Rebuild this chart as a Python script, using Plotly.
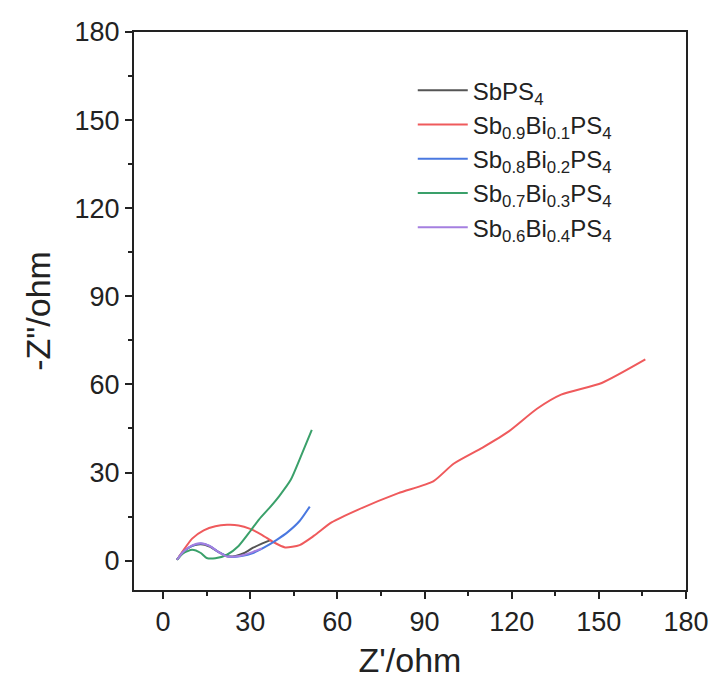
import plotly.graph_objects as go

# Data (Z' , -Z'')
sbps4_x = [4.8, 7, 10, 13, 16, 19, 22, 25, 28, 31, 34, 37]
sbps4_y = [0.3, 3.0, 5.0, 5.6, 4.8, 3.0, 1.5, 1.6, 2.6, 4.4, 5.8, 7.0]

bi01_x = [4.8, 7, 10, 14, 18, 22, 26, 30, 34, 38, 42, 47, 52, 58, 67, 81, 93, 100, 110, 119, 128.7, 137, 151, 166]
bi01_y = [0.3, 3.5, 7.5, 10.3, 11.7, 12.2, 12.0, 10.8, 8.8, 6.3, 4.5, 5.3, 8.5, 13.0, 17.3, 23.0, 27.0, 33.0, 38.5, 44.0, 51.7, 56.5, 60.5, 68.5]

bi02_x = [4.8, 7, 10, 13, 16, 19, 23, 27, 31, 35, 39, 43, 47, 50.5]
bi02_y = [0.3, 3.0, 5.0, 5.8, 5.0, 3.0, 1.3, 1.6, 2.6, 4.6, 7.0, 9.8, 13.5, 18.4]

bi03_x = [4.8, 7, 10, 13, 15, 18, 22, 26, 30, 33, 37, 40, 44, 47.4, 51.2]
bi03_y = [0.3, 2.5, 3.7, 2.6, 0.9, 0.8, 2.0, 5.0, 10.0, 14.0, 18.4, 22.0, 27.6, 35.4, 44.5]

bi04_x = [4.8, 7, 10, 13, 16, 19, 22, 25, 28, 31, 34]
bi04_y = [0.3, 3.0, 5.2, 5.9, 5.0, 3.0, 1.4, 1.4, 2.0, 3.0, 4.2]

names = ["SbPS<sub>4</sub>",
         "Sb<sub>0.9</sub>Bi<sub>0.1</sub>PS<sub>4</sub>",
         "Sb<sub>0.8</sub>Bi<sub>0.2</sub>PS<sub>4</sub>",
         "Sb<sub>0.7</sub>Bi<sub>0.3</sub>PS<sub>4</sub>",
         "Sb<sub>0.6</sub>Bi<sub>0.4</sub>PS<sub>4</sub>"]
colors = ["#555555", "#ef5a5c", "#4a78e0", "#3aa06a", "#a57fe0"]
series = [(sbps4_x, sbps4_y), (bi01_x, bi01_y), (bi02_x, bi02_y), (bi03_x, bi03_y), (bi04_x, bi04_y)]

fig = go.Figure()
for (xs, ys), n, c in zip(series, names, colors):
    fig.add_trace(go.Scatter(x=xs, y=ys, mode="lines", name=n,
                             line=dict(color=c, width=2, shape="spline", smoothing=0.6)))

font = "Liberation Sans, Arial, sans-serif"
axis_common = dict(
    range=[-10, 180], tickvals=[0, 30, 60, 90, 120, 150, 180],
    showgrid=False, zeroline=False, showline=True, linecolor="#222", linewidth=2,
    mirror=True, ticks="outside", ticklen=7, tickwidth=2, tickcolor="#222",
    minor=dict(ticks="outside", ticklen=4, tickwidth=2, tickcolor="#222", dtick=15, tick0=0),
    tickfont=dict(family=font, size=27, color="#222"),
)

fig.update_layout(
    width=721, height=689,
    margin=dict(l=134, r=35, t=32, b=99),
    paper_bgcolor="white", plot_bgcolor="white",
    showlegend=True,
    legend=dict(x=0.505, y=0.935, xanchor="left", yanchor="top",
                font=dict(family=font, size=24, color="#222"),
                bgcolor="rgba(0,0,0,0)", tracegroupgap=0, itemwidth=50),
    xaxis=dict(**axis_common, title=dict(text="Z'/ohm", font=dict(family=font, size=34, color="#222"), standoff=12)),
    yaxis=dict(**axis_common, title=dict(text='-Z"/ohm', font=dict(family=font, size=34, color="#222"), standoff=14)),
)

fig.write_html("out.html")
